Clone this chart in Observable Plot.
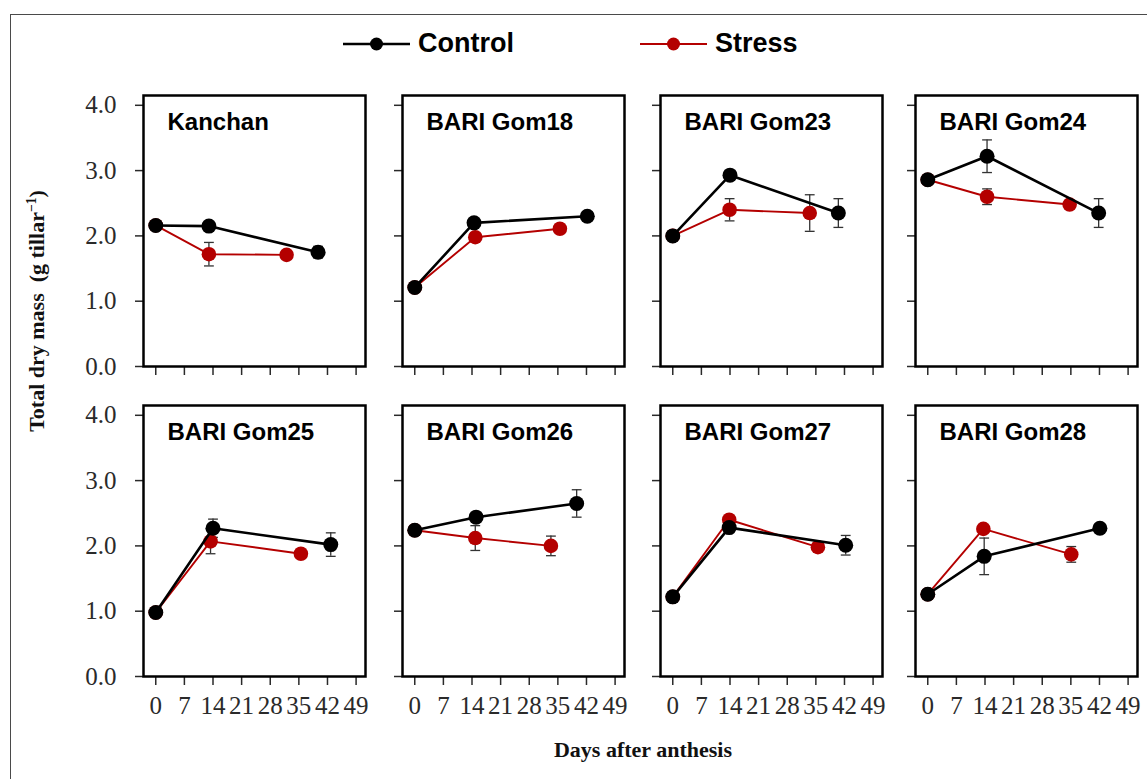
<!DOCTYPE html>
<html>
<head>
<meta charset="utf-8">
<script src="https://cdn.jsdelivr.net/npm/d3@7"></script>
<script src="https://cdn.jsdelivr.net/npm/@observablehq/plot@0.6"></script>
<style>
  html, body { margin: 0; padding: 0; background: #fff; }
  #fig { position: relative; width: 1147px; height: 779px; overflow: hidden; background: #fff; }
  #border { position: absolute; left: 10px; top: 14px; width: 1300px; height: 900px; border: 1.5px solid #4a4a4a; box-sizing: border-box; }
  .panel { position: absolute; }
  #legend { position: absolute; left: 343px; top: 28px; display: flex; align-items: center;
            font: bold 27px "Liberation Sans", Arial, sans-serif; color: #000; }
  #legend .item { display: flex; align-items: center; }
  #ytitle { position: absolute; left: 37px; top: 311px; transform: translate(-50%, -50%) rotate(-90deg);
            white-space: nowrap; font: bold 22px "Liberation Serif", "Times New Roman", serif; color: #111; }
  #ytitle sup { font-size: 0.62em; }
  #xtitle { position: absolute; left: 643px; top: 750px; transform: translate(-50%, -50%);
            white-space: nowrap; font: bold 22px "Liberation Serif", "Times New Roman", serif; color: #111; }
</style>
</head>
<body>
<div id="fig">
  <div id="border"></div>
  <div id="legend"></div>
  <div id="ytitle">Total dry mass&nbsp;&nbsp;(g tillar<sup>−1</sup>)</div>
  <div id="xtitle">Days after anthesis</div>
</div>
<script>
// ---------- data ----------
const varieties = ["Kanchan", "BARI Gom18", "BARI Gom23", "BARI Gom24",
                   "BARI Gom25", "BARI Gom26", "BARI Gom27", "BARI Gom28"];
const seriesNames = ["Control", "Stress"];
const seriesColors = ["#000000", "#b40000"];

const xTicks = [0, 7, 14, 21, 28, 35, 42, 49];
const yTicks = [0, 1, 2, 3, 4];

// Control
const controlDays = [[0, 13, 39.7], [0, 14.5, 42.2], [0, 14, 40.5], [0, 14.5, 41.8],
                     [0, 14, 42.8], [0, 15, 39.6], [0, 13.8, 42.3], [0, 13.8, 42.1]];
const controlMass = [[2.16, 2.15, 1.75], [1.21, 2.20, 2.30], [2.00, 2.93, 2.35], [2.86, 3.22, 2.35],
                     [0.98, 2.27, 2.02], [2.24, 2.44, 2.65], [1.22, 2.28, 2.01], [1.26, 1.84, 2.27]];
const controlErr  = [[0, 0, 0.09], [0, 0, 0], [0, 0, 0.22], [0, 0.25, 0.22],
                     [0, 0.14, 0.18], [0, 0, 0.21], [0, 0, 0.15], [0, 0.28, 0]];
// Stress
const stressDays  = [[0, 13, 32], [0, 14.8, 35.5], [0, 13.9, 33.5], [0, 14.5, 34.7],
                     [0, 13.4, 35.5], [0, 14.8, 33.3], [0, 13.8, 35.5], [0, 13.6, 35.1]];
const stressMass  = [[2.16, 1.72, 1.71], [1.21, 1.98, 2.11], [2.00, 2.40, 2.35], [2.86, 2.60, 2.48],
                     [0.98, 2.07, 1.88], [2.24, 2.12, 2.00], [1.22, 2.40, 1.98], [1.26, 2.26, 1.87]];
const stressErr   = [[0, 0.18, 0], [0, 0, 0], [0, 0.17, 0.28], [0, 0.12, 0],
                     [0, 0.19, 0], [0, 0.19, 0.15], [0, 0, 0], [0, 0, 0.12]];

// ---------- build table ----------
const table = [];
varieties.forEach((v, i) => {
  [[ "Control", controlDays, controlMass, controlErr ], [ "Stress", stressDays, stressMass, stressErr ]]
    .forEach(([s, D, M, E]) => {
      D[i].forEach((day, k) => table.push({variety: v, series: s, day, mass: M[i][k], err: E[i][k]}));
    });
});

// ---------- layout ----------
const colLeft = [143, 402, 660, 915];
const rowTop = [95, 405];
const FW = 222, FH = 271, ML = 70, MR = 10, MT = 10, MB = 48;
const fig = document.getElementById("fig");
const serif = "'Liberation Serif', 'Times New Roman', serif";
const capHalf = 1.2; // days

varieties.forEach((v, i) => {
  const r = Math.floor(i / 4), c = i % 4;
  const data = table.filter(d => d.variety === v);
  const errs = data.filter(d => d.err > 0);
  const ctrl = data.filter(d => d.series === "Control");
  const strs = data.filter(d => d.series === "Stress");
  const chart = Plot.plot({
    width: ML + FW + MR,
    height: MT + FH + MB,
    marginLeft: ML, marginRight: MR, marginTop: MT, marginBottom: MB,
    style: {background: "transparent", overflow: "visible", fontFamily: serif, fontSize: "25px", color: "#2a2a2a"},
    x: {domain: [-3, 51.3]},
    y: {domain: [0, 4.15]},
    color: {domain: seriesNames, range: seriesColors},
    marks: [
      Plot.axisY({ticks: yTicks, tickSize: 8, tickPadding: 19, strokeWidth: 1.5, label: null,
                  tickFormat: c === 0 ? d3.format(".1f") : () => ""}),
      Plot.axisX({ticks: xTicks, tickSize: 9, tickPadding: 11, strokeWidth: 1.5, label: null,
                  tickFormat: r === 1 ? d => String(d) : () => ""}),
      Plot.ruleX(errs, {x: "day", y1: d => d.mass - d.err, y2: d => d.mass + d.err, stroke: "#333", strokeWidth: 1.3}),
      Plot.link(errs, {x1: d => d.day - capHalf, x2: d => d.day + capHalf, y1: d => d.mass + d.err, y2: d => d.mass + d.err, stroke: "#333", strokeWidth: 1.3}),
      Plot.link(errs, {x1: d => d.day - capHalf, x2: d => d.day + capHalf, y1: d => d.mass - d.err, y2: d => d.mass - d.err, stroke: "#333", strokeWidth: 1.3}),
      Plot.line(strs, {x: "day", y: "mass", stroke: "series", strokeWidth: 1.9}),
      Plot.dot(strs, {x: "day", y: "mass", fill: "series", r: 7.3}),
      Plot.line(ctrl, {x: "day", y: "mass", stroke: "series", strokeWidth: 2.6}),
      Plot.dot(ctrl, {x: "day", y: "mass", fill: "series", r: 7.5}),
      Plot.frame({stroke: "#000", strokeWidth: 2.5}),
      Plot.text([v], {frameAnchor: "top-left", text: d => d, dx: 24, dy: 27, textAnchor: "start", lineAnchor: "middle",
                      fontFamily: "'Liberation Sans', Arial, sans-serif", fontSize: 24, fontWeight: "bold", fill: "#000"})
    ]
  });
  chart.classList.add("panel");
  chart.style.left = (colLeft[c] - ML) + "px";
  chart.style.top = (rowTop[r] - MT) + "px";
  fig.appendChild(chart);
});

// ---------- legend ----------
const legend = document.getElementById("legend");
seriesNames.forEach((s, k) => {
  const item = document.createElement("span");
  item.className = "item";
  if (k > 0) item.style.marginLeft = "126px";
  const sw = 67, sh = 20;
  item.innerHTML =
    `<svg width="${sw}" height="${sh}"><line x1="0" x2="${sw}" y1="${sh/2}" y2="${sh/2}" stroke="${seriesColors[k]}" stroke-width="${k ? 2 : 2.6}"/>` +
    `<circle cx="${sw/2}" cy="${sh/2}" r="6.5" fill="${seriesColors[k]}"/></svg>` +
    `<span style="margin-left:8px">${s}</span>`;
  legend.appendChild(item);
});
</script>
</body>
</html>
